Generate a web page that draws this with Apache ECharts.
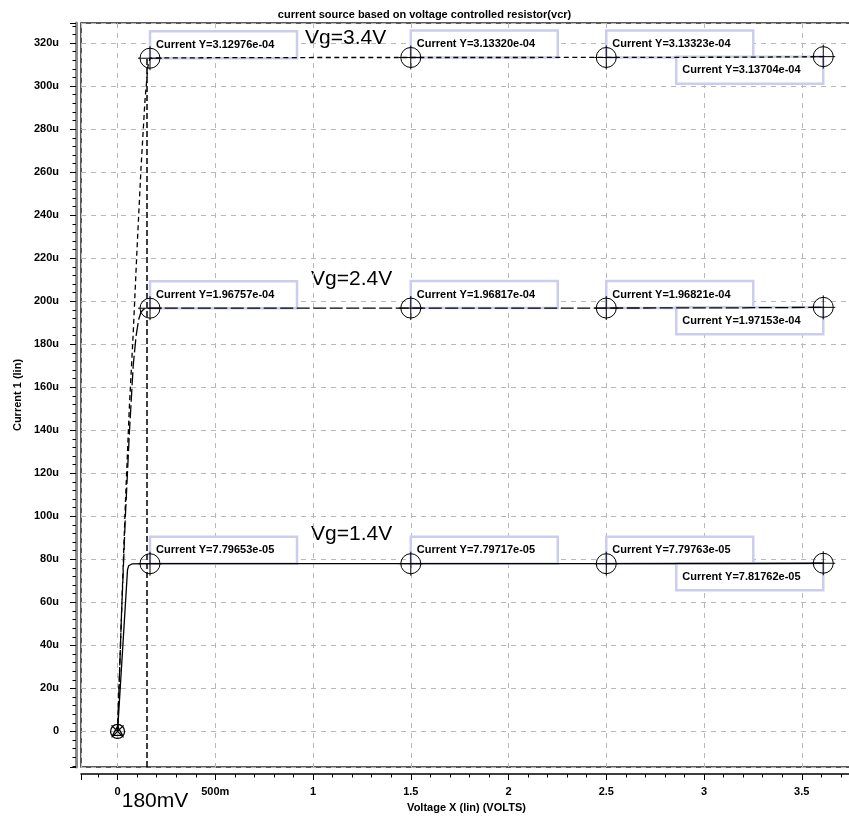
<!DOCTYPE html>
<html><head><meta charset="utf-8">
<script src="https://cdn.jsdelivr.net/npm/echarts@6/dist/echarts.min.js"></script>
<style>html,body{margin:0;padding:0;background:#fff}#c{width:849px;height:816px}</style>
</head><body><div id="c"></div>
<script>
const FONT = '"Liberation Sans", Arial, Helvetica, sans-serif';
const TITLE = 'current source based on voltage controlled resistor(vcr)';
const X_NAME = 'Voltage X (lin) (VOLTS)';
const Y_NAME = 'Current 1 (lin)';
const X_MIN = -0.187, X_MAX = 3.757;
const Y_MIN = -16.55, Y_MAX = 329.35;

// curves: [Voltage V, Current uA]
const vg34 = [[0,0],[0.02,54],[0.04,106],[0.06,150],[0.08,185],[0.10,225],[0.12,262],[0.14,293],[0.155,309],[0.166,312.976],[0.19,313.08],[0.5,313.22],[1.0,313.30],[1.5,313.320],[2.5,313.323],[3.2,313.45],[3.61,313.704]];
const vg24 = [[0,0],[0.02,54],[0.04,100],[0.06,138],[0.08,170],[0.095,184],[0.108,191.5],[0.12,195],[0.135,196.4],[0.166,196.757],[0.5,196.79],[1.5,196.817],[2.5,196.821],[3.2,196.95],[3.61,197.153]];
const vg14 = [[0,0],[0.051,75.2],[0.057,77.0],[0.064,77.75],[0.075,77.92],[0.166,77.9653],[1.5,77.9717],[2.5,77.9763],[3.2,78.05],[3.61,78.1762]];

// cursor readouts
const cursorX = [0.166, 1.5, 2.5, 3.61];
const cur34 = [312.976, 313.320, 313.323, 313.704];
const cur24 = [196.757, 196.817, 196.821, 197.153];
const cur14 = [77.9653, 77.9717, 77.9763, 78.1762];
const vLineX = 0.150;
const curveLabels = ['Vg=3.4V', 'Vg=2.4V', 'Vg=1.4V'];
const vLineLabel = '180mV';

function fmtAmp(u) {
  let s = (u * 1e-6).toExponential(5);
  return s.replace(/e([+-])(\d)$/, 'e$10$2');
}
function fmtX(v) {
  const r = Math.round(v * 2) / 2;
  if (Math.abs(v - r) > 1e-6) return '';
  if (r === 0) return '0';
  if (r === 0.5) return '500m';
  return String(r);
}
function fmtY(v) {
  const r = Math.round(v / 20) * 20;
  if (Math.abs(v - r) > 1e-6) return '';
  return r === 0 ? '0' : r + 'u';
}

const boxData = [];
const markerData = [];
[cur34, cur24, cur14].forEach(vals => {
  vals.forEach((v, i) => {
    boxData.push([cursorX[i], v, v, i === cursorX.length - 1 ? 1 : 0]);
    markerData.push([cursorX[i], v]);
  });
});

const lblStyle = {fontFamily: FONT, fontSize: 11, fontWeight: 'bold', color: '#000'};
const gridLine = {show: true, lineStyle: {color: '#b8b8b8', type: [5, 5], width: 1}};

const chart = echarts.init(document.getElementById('c'), null, {renderer: 'canvas'});
chart.setOption({
  animation: false,
  backgroundColor: '#fff',
  title: {text: TITLE, left: 'center', top: 4, textStyle: {fontFamily: FONT, fontSize: 11, fontWeight: 'bold', color: '#000'}},
  grid: {left: 81, top: 23, width: 771, height: 744, show: true, borderColor: '#222', borderWidth: 1.5, backgroundColor: 'transparent', containLabel: false, outerBoundsMode: 'none'},
  xAxis: {
    type: 'value', min: X_MIN, max: X_MAX, splitNumber: 8, offset: 7, position: 'bottom',
    name: X_NAME, nameLocation: 'middle', nameGap: 28, nameTextStyle: lblStyle,
    axisLine: {show: true, onZero: false, lineStyle: {color: '#000', width: 1.5}},
    axisTick: {show: true, length: 6, lineStyle: {color: '#000', width: 1}},
    minorTick: {show: true, splitNumber: 5, length: 3.5, lineStyle: {color: '#000', width: 1}},
    axisLabel: Object.assign({margin: 12, formatter: fmtX}, lblStyle),
    splitLine: gridLine
  },
  yAxis: {
    type: 'value', min: Y_MIN, max: Y_MAX, splitNumber: 17, offset: 5, position: 'left',
    name: Y_NAME, nameLocation: 'middle', nameGap: 53, nameTextStyle: lblStyle,
    axisLine: {show: true, onZero: false, lineStyle: {color: '#8c8c8c', width: 3}},
    axisTick: {show: true, length: 6, lineStyle: {color: '#000', width: 1}},
    minorTick: {show: true, splitNumber: 5, length: 3.5, lineStyle: {color: '#000', width: 1}},
    axisLabel: Object.assign({margin: 17, formatter: fmtY}, lblStyle),
    splitLine: gridLine
  },
  series: [
    {type: 'line', data: vg14, showSymbol: false, z: 2, lineStyle: {color: '#000', width: 1.3}},
    {type: 'line', data: vg24, showSymbol: false, z: 2, lineStyle: {color: '#000', width: 1.3, type: [13, 3.5]}},
    {type: 'line', data: vg34, showSymbol: false, z: 2, lineStyle: {color: '#000', width: 1.3, type: [5, 3.5]},
      markLine: {silent: true, symbol: 'none', label: {show: false},
        lineStyle: {color: '#000', width: 1.5, type: [6, 3]},
        data: [[{coord: [vLineX, Y_MIN]}, {coord: [vLineX, cur34[0]]}]]}},
    {type: 'custom', z: 1, data: boxData, encode: {x: 0, y: 1},
      renderItem: (params, api) => {
        const p = api.coord([api.value(0), api.value(1)]);
        const lower = api.value(3) === 1;
        const w = 147, h = 27;
        const x0 = lower ? p[0] - w : p[0];
        const y0 = lower ? p[1] : p[1] - h;
        return {type: 'group', children: [
          {type: 'rect', shape: {x: x0, y: y0, width: w, height: h}, style: {fill: '#fff', stroke: '#cacdee', lineWidth: 2.5}},
          {type: 'text', x: x0 + 6, y: y0 + h / 2, style: {text: 'Current Y=' + fmtAmp(api.value(2)), font: 'bold 11px ' + FONT, fill: '#000', align: 'left', verticalAlign: 'middle', textAlign: 'left', textVerticalAlign: 'middle'}}
        ]};
      }},
    {type: 'custom', z: 3, data: markerData, encode: {x: 0, y: 1},
      renderItem: (params, api) => {
        const p = api.coord([api.value(0), api.value(1)]);
        const st = {stroke: '#000', fill: null, lineWidth: 1};
        return {type: 'group', children: [
          {type: 'circle', shape: {cx: p[0], cy: p[1], r: 10}, style: st},
          {type: 'line', shape: {x1: p[0] - 12, y1: p[1], x2: p[0] + 12, y2: p[1]}, style: st},
          {type: 'line', shape: {x1: p[0], y1: p[1] - 12, x2: p[0], y2: p[1] + 12}, style: st}
        ]};
      }},
    {type: 'custom', z: 3, data: [[0, 0]], encode: {x: 0, y: 1},
      renderItem: (params, api) => {
        const p = api.coord([api.value(0), api.value(1)]);
        const st = {stroke: '#000', fill: null, lineWidth: 1.3};
        return {type: 'group', children: [
          {type: 'circle', shape: {cx: p[0], cy: p[1], r: 7}, style: st},
          {type: 'line', shape: {x1: p[0] - 6, y1: p[1] - 6, x2: p[0] + 6, y2: p[1] + 6}, style: st},
          {type: 'line', shape: {x1: p[0] - 6, y1: p[1] + 6, x2: p[0] + 6, y2: p[1] - 6}, style: st},
          {type: 'polygon', shape: {points: [[p[0], p[1] - 5], [p[0] - 5, p[1] + 4], [p[0] + 5, p[1] + 4]]}, style: st}
        ]};
      }}
  ],
  graphic: [
    {type: 'text', x: 305, y: 38, style: {text: curveLabels[0], font: '21px ' + FONT, fill: '#000', align: 'left', verticalAlign: 'middle', textAlign: 'left', textVerticalAlign: 'middle'}},
    {type: 'text', x: 311, y: 279, style: {text: curveLabels[1], font: '21px ' + FONT, fill: '#000', align: 'left', verticalAlign: 'middle', textAlign: 'left', textVerticalAlign: 'middle'}},
    {type: 'text', x: 311, y: 534.5, style: {text: curveLabels[2], font: '21px ' + FONT, fill: '#000', align: 'left', verticalAlign: 'middle', textAlign: 'left', textVerticalAlign: 'middle'}},
    {type: 'text', x: 155, y: 801, style: {text: vLineLabel, font: '21px ' + FONT, fill: '#000', align: 'center', verticalAlign: 'middle', textAlign: 'center', textVerticalAlign: 'middle'}}
  ]
});
</script></body></html>
